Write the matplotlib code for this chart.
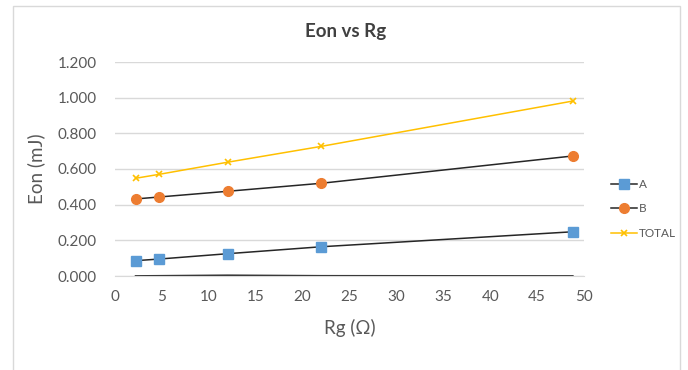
import matplotlib
matplotlib.use("Agg")
import matplotlib.pyplot as plt
from matplotlib.patches import Rectangle

plt.rcParams['font.family'] = ['Lato', 'DejaVu Sans']

# Gate resistance values (ohm) and turn-on energy (mJ)
rg = [2.2, 4.7, 12, 22, 48.8]
eon_a = [0.086, 0.095, 0.125, 0.164, 0.248]
eon_b = [0.432, 0.443, 0.475, 0.520, 0.673]
eon_total = [0.548, 0.570, 0.638, 0.727, 0.981]
eon_base = [0.000, 0.001, 0.004, 0.001, 0.000]

y_ticks = [0.0, 0.2, 0.4, 0.6, 0.8, 1.0, 1.2]
x_ticks = [0, 5, 10, 15, 20, 25, 30, 35, 40, 45, 50]

text_grey = '#595959'
grid_grey = '#d9d9d9'

fig = plt.figure(figsize=(6.88, 3.70), dpi=100)
fig.patch.set_facecolor('white')

# chart frame
fig.patches.append(Rectangle((13 / 688, -0.05), (680 - 13) / 688, 1.05 - 6 / 370,
                             transform=fig.transFigure, fill=False,
                             edgecolor=grid_grey, linewidth=1.0))

ax = fig.add_axes([115 / 688, 1 - 276 / 370, (584 - 115) / 688, (276 - 62) / 370])

ax.plot(rg, eon_base, color='#3a3a3a', linewidth=1.3, zorder=3)
ax.plot(rg, eon_a, color='#262626', linewidth=1.1, marker='s', markersize=6.5,
        markerfacecolor='#5B9BD5', markeredgecolor='#5B9BD5', label='A', zorder=4)
ax.plot(rg, eon_b, color='#262626', linewidth=1.1, marker='o', markersize=7,
        markerfacecolor='#ED7D31', markeredgecolor='#ED7D31', label='B', zorder=4)
ax.plot(rg, eon_total, color='#FFC000', linewidth=1.1, marker='x', markersize=5,
        markeredgewidth=1.2, label='TOTAL', zorder=4)

ax.set_xlim(0, 50)
ax.set_ylim(0, 1.2)
ax.set_xticks(x_ticks)
ax.set_yticks(y_ticks)
ax.set_yticklabels([f'{v:.3f}' for v in y_ticks])
ax.grid(axis='y', color=grid_grey, linewidth=1.0)
ax.set_axisbelow(True)
for side in ['left', 'right', 'top']:
    ax.spines[side].set_visible(False)
ax.spines['bottom'].set_color(grid_grey)
ax.tick_params(axis='both', length=0, labelsize=11, colors=text_grey)
ax.tick_params(axis='y', pad=13)
ax.tick_params(axis='x', pad=10)

ax.set_xlabel('Rg (Ω)', fontsize=13.5, color=text_grey, labelpad=11)
ax.set_ylabel('Eon (mJ)', fontsize=13.5, color=text_grey, labelpad=9)

fig.text(346 / 688, 1 - 31 / 370, 'Eon vs Rg', ha='center', va='center',
         fontsize=13.5, fontweight='bold', color='#404040')

leg = ax.legend(loc='center left', bbox_to_anchor=(600 / 688, 1 - 209 / 370),
                bbox_transform=fig.transFigure, frameon=False, fontsize=8.5,
                handlelength=2.2, handletextpad=0.2, labelspacing=1.15)
for t in leg.get_texts():
    t.set_color(text_grey)

fig.savefig('out.png', dpi=100, facecolor='white')
